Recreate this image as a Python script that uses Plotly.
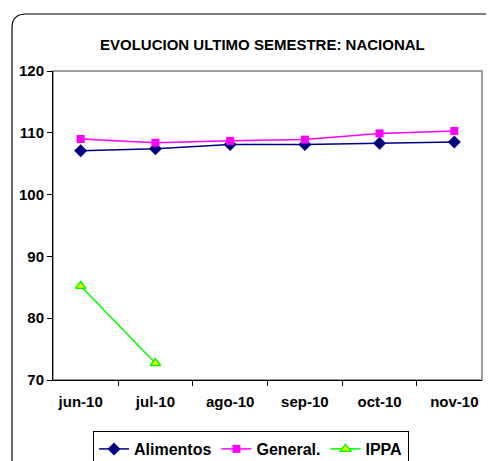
import plotly.graph_objects as go

# data
months = ["jun-10", "jul-10", "ago-10", "sep-10", "oct-10", "nov-10"]
alimentos = [107.1, 107.4, 108.1, 108.1, 108.3, 108.5]
general = [109.0, 108.4, 108.7, 108.9, 109.9, 110.3]
ippa = [85.2, 72.7, None, None, None, None]
y_ticks = [70, 80, 90, 100, 110, 120]

FONT = "Liberation Sans, Arial, sans-serif"

# page body adds an 8px margin; work in window pixels and shift
OFF = 8
W, H = 494 - OFF, 461 - OFF
# plot area in window pixels: x 53..482, y 71..380
L, T = 53 - OFF, 71 - OFF
R, B = W - (482 - OFF), H - (380 - OFF)
pw, ph = W - L - R, H - T - B


def px(x):
    return (x - 53) / pw


def py(y):
    return (380 - y) / ph


fig = go.Figure()

fig.add_trace(
    go.Scatter(
        x=months,
        y=alimentos,
        name="Alimentos",
        mode="lines+markers",
        line=dict(color="#000080", width=1.5),
        marker=dict(symbol="diamond", size=10, color="#000080"),
    )
)
fig.add_trace(
    go.Scatter(
        x=months,
        y=general,
        name="General.",
        mode="lines+markers",
        line=dict(color="#FF00FF", width=1.5),
        marker=dict(symbol="square", size=8, color="#FF00FF"),
    )
)
fig.add_trace(
    go.Scatter(
        x=months,
        y=ippa,
        name="IPPA",
        mode="lines+markers",
        line=dict(color="#00FF00", width=1.5),
        marker=dict(
            symbol="triangle-up",
            size=9,
            color="#FFFF00",
            line=dict(color="#00FF00", width=1.5),
        ),
    )
)

# outer chart frame with rounded top-left corner
x0, yt, r = px(12), py(14), 14
path = (
    f"M {x0},{py(480)} L {x0},{py(14 + r)} "
    f"Q {x0},{yt} {px(12 + r)},{yt} L {px(520)},{yt}"
)
fig.add_shape(
    type="path", path=path, xref="paper", yref="paper",
    line=dict(color="black", width=1.2),
)
# gray plot-area frame (top/right)
fig.add_shape(
    type="rect", xref="paper", yref="paper", x0=0, y0=0, x1=1, y1=1,
    line=dict(color="#808080", width=1.5), layer="below",
)

fig.add_annotation(
    text="<b>EVOLUCION ULTIMO SEMESTRE: NACIONAL</b>",
    xref="paper", yref="paper", x=px(262), y=py(34),
    showarrow=False, font=dict(family=FONT, size=15, color="black"),
)

fig.update_xaxes(
    type="category",
    showgrid=False,
    showline=True,
    linecolor="black",
    linewidth=1,
    ticks="outside",
    tickson="boundaries",
    ticklen=5,
    tickcolor="black",
    tickfont=dict(family=FONT, size=15, color="black", weight="bold"),
    ticklabelstandoff=8,
    automargin=False,
)
fig.update_yaxes(
    range=[70, 120],
    tickvals=y_ticks,
    showgrid=False,
    zeroline=False,
    showline=True,
    linecolor="black",
    linewidth=1,
    ticks="outside",
    ticklen=5,
    tickcolor="black",
    tickfont=dict(family=FONT, size=15, color="black", weight="bold"),
    automargin=False,
)

fig.update_layout(
    width=W,
    height=H,
    margin=dict(l=L, r=R, t=T, b=B, autoexpand=False),
    plot_bgcolor="white",
    paper_bgcolor="white",
    showlegend=True,
    legend=dict(
        orientation="h",
        x=px(93),
        y=py(431),
        xanchor="left",
        yanchor="top",
        bordercolor="black",
        borderwidth=1,
        font=dict(family=FONT, size=16, color="black", weight="bold"),
        itemwidth=30,
        tracegroupgap=0,
    ),
)

fig.write_html("out.html")
